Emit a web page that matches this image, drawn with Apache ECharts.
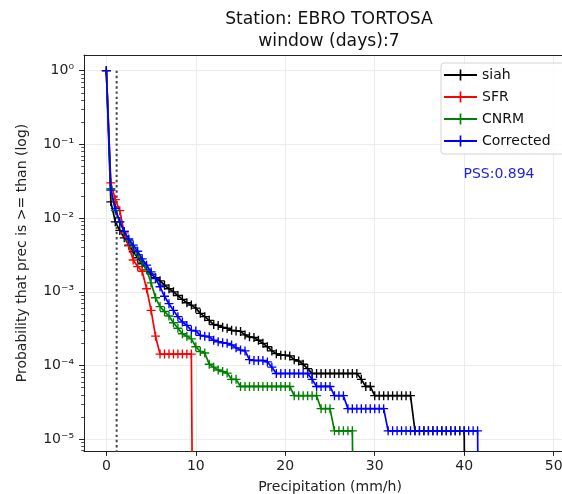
<!DOCTYPE html>
<html>
<head>
<meta charset="utf-8">
<script src="https://cdn.jsdelivr.net/npm/echarts@6/dist/echarts.min.js"></script>
<style>
  html, body { margin: 0; padding: 0; background: #fff; }
  #chart { width: 562px; height: 494px; }
</style>
</head>
<body>
<div id="chart"></div>
<script>
// precipitation thresholds (mm/h)
var thresholds = [0, 0.5, 1, 1.5, 2, 2.5, 3, 3.5, 4, 4.5, 5, 5.5, 6, 6.5, 7, 7.5, 8, 8.5, 9, 9.5,
  10, 10.5, 11, 11.5, 12, 12.5, 13, 13.5, 14, 14.5, 15, 15.5, 16, 16.5, 17, 17.5, 18, 18.5, 19, 19.5,
  20, 20.5, 21, 21.5, 22, 22.5, 23, 23.5, 24, 24.5, 25, 25.5, 26, 26.5, 27, 27.5, 28, 28.5, 29, 29.5,
  30, 30.5, 31, 31.5, 32, 32.5, 33, 33.5, 34, 34.5, 35, 35.5, 36, 36.5, 37, 37.5, 38, 38.5, 39, 39.5,
  40, 40.5, 41, 41.5, 42];

// probability that prec >= threshold, one value per threshold
var siah = [1, 0.0166, 0.0089, 0.0068, 0.0054, 0.0043, 0.0035, 0.0029, 0.0024, 0.0020,
  0.00174, 0.00155, 0.00141, 0.00123, 0.0011, 0.001, 0.00089, 0.00079, 0.00071, 0.00066,
  0.0006, 0.00051, 0.00046, 0.00041, 0.00036, 0.00035, 0.00033, 0.00032, 0.0003, 0.000295,
  0.00029, 0.00026, 0.000245, 0.00024, 0.00022, 0.0002, 0.00018, 0.000158, 0.000145, 0.000138,
  0.000138, 0.000135, 0.00012, 0.000115, 0.000104, 0.000091,
  7.8e-5, 7.8e-5, 7.8e-5, 7.8e-5, 7.8e-5, 7.8e-5, 7.8e-5, 7.8e-5, 7.8e-5, 7.8e-5, 7.8e-5,
  6.5e-5, 5.2e-5, 5.2e-5,
  3.9e-5, 3.9e-5, 3.9e-5, 3.9e-5, 3.9e-5, 3.9e-5, 3.9e-5, 3.9e-5, 3.9e-5,
  1.3e-5, 1.3e-5, 1.3e-5, 1.3e-5, 1.3e-5, 1.3e-5, 1.3e-5, 1.3e-5, 1.3e-5, 1.3e-5, 1.3e-5, 1.3e-5,
  0];
var sfr = [1, 0.030, 0.0178, 0.0126, 0.0063, 0.0042, 0.0027, 0.0022, 0.0019, 0.0011,
  0.00056, 0.00025,
  1.43e-4, 1.43e-4, 1.43e-4, 1.43e-4, 1.43e-4, 1.43e-4, 1.43e-4, 1.43e-4,
  0];
var cnrm = [1, 0.025, 0.0126, 0.0089, 0.0066, 0.005, 0.004, 0.0032, 0.0025, 0.002,
  0.00132, 0.00083, 0.00063, 0.00054, 0.00047, 0.00038, 0.00032, 0.00027, 0.00025, 0.00023,
  0.00018, 0.000155, 0.000148, 0.000104, 0.000095, 0.000087, 0.000083, 0.000079,
  6.5e-5, 6.5e-5,
  5.2e-5, 5.2e-5, 5.2e-5, 5.2e-5, 5.2e-5, 5.2e-5, 5.2e-5, 5.2e-5, 5.2e-5, 5.2e-5, 5.2e-5, 5.2e-5,
  3.9e-5, 3.9e-5, 3.9e-5, 3.9e-5, 3.9e-5, 3.9e-5,
  2.6e-5, 2.6e-5, 2.6e-5,
  1.3e-5, 1.3e-5, 1.3e-5, 1.3e-5, 1.3e-5,
  0];
var corrected = [1, 0.024, 0.0135, 0.0089, 0.0066, 0.0052, 0.0043, 0.00355, 0.0028, 0.0023,
  0.00186, 0.00151, 0.00117, 0.00087, 0.00069, 0.00056, 0.00046, 0.00039, 0.00035, 0.0003,
  0.000295, 0.000257, 0.00025, 0.000245, 0.00022, 0.00021, 0.000204, 0.0002, 0.00019, 0.000174,
  0.000162, 0.000158, 0.00012, 0.000117, 0.000117, 0.000117, 0.000112, 0.000095,
  7.8e-5, 7.8e-5, 7.8e-5, 7.8e-5, 7.8e-5, 7.8e-5, 7.8e-5, 7.8e-5,
  6.5e-5,
  5.2e-5, 5.2e-5, 5.2e-5, 5.2e-5,
  3.9e-5, 3.9e-5, 3.9e-5,
  2.6e-5, 2.6e-5, 2.6e-5, 2.6e-5, 2.6e-5, 2.6e-5, 2.6e-5, 2.6e-5, 2.6e-5,
  1.3e-5, 1.3e-5, 1.3e-5, 1.3e-5, 1.3e-5, 1.3e-5, 1.3e-5, 1.3e-5, 1.3e-5, 1.3e-5, 1.3e-5,
  1.3e-5, 1.3e-5, 1.3e-5, 1.3e-5, 1.3e-5, 1.3e-5, 1.3e-5, 1.3e-5, 1.3e-5, 1.3e-5,
  0];

var seriesNames = ["siah", "SFR", "CNRM", "Corrected"];
var seriesColors = ["#000000", "#ff0000", "#008000", "#0000ff"];
var xTicks = [0, 10, 20, 30, 40, 50];
var yTicks = [1e-5, 1e-4, 1e-3, 1e-2, 1e-1, 1];
var yMinorTicks = [7e-6, 8e-6, 9e-6,
  2e-5, 3e-5, 4e-5, 5e-5, 6e-5, 7e-5, 8e-5, 9e-5,
  2e-4, 3e-4, 4e-4, 5e-4, 6e-4, 7e-4, 8e-4, 9e-4,
  2e-3, 3e-3, 4e-3, 5e-3, 6e-3, 7e-3, 8e-3, 9e-3,
  2e-2, 3e-2, 4e-2, 5e-2, 6e-2, 7e-2, 8e-2, 9e-2,
  0.2, 0.3, 0.4, 0.5, 0.6, 0.7, 0.8, 0.9];
var thresholdLine = 1.15;
var pssText = "PSS:0.894";

var FONT = "DejaVu Sans";
var X_MIN = -2.5, X_MAX = 52.5;
var Y_MIN = 6.93e-6, Y_MAX = 1.63;
var plus = "path://M4.25,0H5.75V4.25H10V5.75H5.75V10H4.25V5.75H0V4.25H4.25Z";

var sup = { "0": "\u2070", "1": "\u00b9", "2": "\u00b2", "3": "\u00b3", "4": "\u2074",
  "5": "\u2075", "6": "\u2076", "7": "\u2077", "8": "\u2078", "9": "\u2079", "-": "\u207b" };
function powLabel(v) {
  var e = String(Math.round(Math.log10(v)));
  return "10" + e.split("").map(function (c) { return sup[c]; }).join("");
}

// zero probability: clip far below the axis like matplotlib does
function toPoints(vals) {
  return vals.map(function (v, i) {
    if (v > 0) return [thresholds[i], v];
    return { value: [thresholds[i], 1e-12], symbol: "none" };
  });
}

var chart = echarts.init(document.getElementById("chart"), null, { renderer: "canvas" });

var lineSeries = [siah, sfr, cnrm, corrected].map(function (vals, k) {
  return {
    name: seriesNames[k],
    type: "line",
    data: toPoints(vals),
    symbol: plus,
    symbolSize: 9,
    symbolKeepAspect: true,
    showSymbol: true,
    showAllSymbol: true,
    lineStyle: { color: seriesColors[k], width: 1.7 },
    itemStyle: { color: seriesColors[k], borderWidth: 0 },
    emphasis: { disabled: true },
    z: 3 + k
  };
});

var gridBox = { left: 84, top: 55, right: -14, bottom: 43, containLabel: false, outerBoundsMode: "none" };

var option = {
  animation: false,
  backgroundColor: "#ffffff",
  textStyle: { fontFamily: FONT },
  title: [
    {
      text: "Station: EBRO TORTOSA\nwindow (days):7",
      left: 329, top: 9, textAlign: "center", padding: 0,
      textStyle: { fontFamily: FONT, fontSize: 17.2, fontWeight: "normal", color: "#111", lineHeight: 22 }
    },
    {
      text: pssText,
      left: 499, top: 166, textAlign: "center", padding: 0,
      textStyle: { fontFamily: FONT, fontSize: 14, fontWeight: "normal", color: "#2323d8", lineHeight: 16 }
    }
  ],
  graphic: [
    {
      type: "rect", z: 50,
      shape: { x: 441, y: 63, width: 140, height: 91, r: 3 },
      style: { fill: "rgba(255,255,255,0.85)", stroke: "#d3d3d3", lineWidth: 1 }
    }
  ],
  legend: {
    data: seriesNames,
    orient: "vertical",
    left: 441, top: 63,
    padding: [5, 0, 5, 2],
    itemGap: 8,
    itemWidth: 33, itemHeight: 14,
    textStyle: { fontFamily: FONT, fontSize: 14, color: "#111" },
    selectedMode: false,
    z: 60
  },
  grid: [
    Object.assign({ show: false }, gridBox),
    Object.assign({ show: false }, gridBox)
  ],
  xAxis: [
    {
      type: "value", gridIndex: 0, min: X_MIN, max: X_MAX, position: "bottom",
      axisLine: { show: true, onZero: false, lineStyle: { color: "#222", width: 1 } },
      axisTick: { show: true, length: 4.9, customValues: xTicks, lineStyle: { color: "#222", width: 1 } },
      axisLabel: { customValues: xTicks, margin: 8, fontFamily: FONT, fontSize: 14, color: "#222" },
      splitLine: { show: true, lineStyle: { color: "#ececec", width: 1 } },
      name: "Precipitation (mm/h)", nameLocation: "middle", nameGap: 29,
      nameTextStyle: { fontFamily: FONT, fontSize: 14, color: "#222" }
    },
    {
      // top spine
      type: "value", gridIndex: 0, min: X_MIN, max: X_MAX, position: "top",
      axisLine: { show: true, onZero: false, lineStyle: { color: "#222", width: 1 } },
      axisTick: { show: false }, axisLabel: { show: false }, splitLine: { show: false }
    },
    { type: "value", gridIndex: 1, min: X_MIN, max: X_MAX, show: false }
  ],
  yAxis: [
    {
      type: "log", gridIndex: 0, min: Y_MIN, max: Y_MAX, position: "left",
      axisLine: { show: true, onZero: false, lineStyle: { color: "#222", width: 1 } },
      axisTick: { show: true, length: 4.9, customValues: yTicks, lineStyle: { color: "#222", width: 1 } },
      axisLabel: { customValues: yTicks, margin: 10, fontFamily: FONT, fontSize: 14, color: "#222",
        formatter: function (v) { return powLabel(v); } },
      splitLine: { show: true, lineStyle: { color: "#ececec", width: 1 } },
      name: "Probability that prec is >= than (log)", nameLocation: "middle", nameGap: 55,
      nameTextStyle: { fontFamily: FONT, fontSize: 14, color: "#222" }
    },
    {
      // minor ticks of the log axis
      type: "log", gridIndex: 1, min: Y_MIN, max: Y_MAX, position: "left",
      axisLine: { show: false, onZero: false },
      axisTick: { show: true, length: 2.8, customValues: yMinorTicks, lineStyle: { color: "#222", width: 0.8 } },
      axisLabel: { show: false },
      splitLine: { show: false }
    }
  ],
  series: [
    {
      type: "line",
      xAxisIndex: 0, yAxisIndex: 0,
      data: [[thresholdLine, 1], [thresholdLine, 1e-7]],
      symbol: "none",
      lineStyle: { color: "#444", width: 2, type: [2.4, 2.8] },
      emphasis: { disabled: true },
      z: 2
    }
  ].concat(lineSeries)
};

chart.setOption(option);
</script>
</body>
</html>
